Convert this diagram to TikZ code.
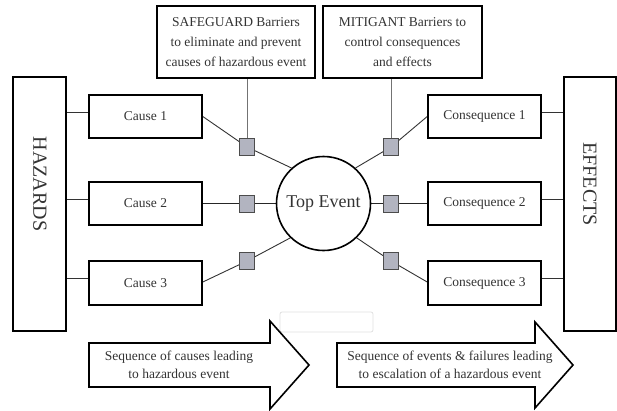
\documentclass[tikz,border=0pt]{standalone}
\usepackage{fontspec}
\setmainfont{Liberation Serif}
\definecolor{barfill}{RGB}{178,180,192}
\pgfdeclarelayer{bg}
\pgfsetlayers{bg,main}
\begin{document}
\begin{tikzpicture}[x=1pt,y=-1pt,
  txt/.style={text=black!80, font=\fontsize{13.5}{20}\selectfont, align=center},
  box/.style={txt, draw=black, line width=1.6pt, fill=white, inner sep=0pt},
  cbox/.style={box, minimum width=113pt, minimum height=43pt},
  tallbox/.style={draw=black, line width=1.6pt, fill=white, minimum width=53pt, minimum height=254pt, inner sep=0pt},
  bigtxt/.style={text=black!80, font=\fontsize{20}{24}\selectfont, rotate=-90, inner sep=0pt},
  bar/.style={draw=black!70, line width=0.8pt, fill=barfill, minimum width=15pt, minimum height=17pt, inner sep=0pt},
  conn/.style={draw=black!80, line width=0.9pt},
  thick conn/.style={draw=black!85, line width=1.8pt},
  vline/.style={draw=black!55, line width=0.9pt},
  arrowshape/.style={draw=black, line width=1.6pt, fill=white, line join=miter}
]
\useasboundingbox (0,0) rectangle (617,410);

% side boxes
\node[tallbox] (haz) at (39.5,204) {};
\node[bigtxt] (haztext) at (40,184) {HAZARDS};
\node[tallbox, minimum width=52pt] (eff) at (590,204) {};
\node[bigtxt] (efftext) at (590,184) {EFFECTS};

% barrier description boxes
\node[box, minimum width=158pt, minimum height=72pt] (sg) at (236,42)
  {SAFEGUARD Barriers\\to eliminate and prevent\\causes of hazardous event};
\node[box, minimum width=159pt, minimum height=72pt] (mg) at (402.5,42)
  {MITIGANT Barriers to\\control consequences\\and effects};

% causes and consequences
\node[cbox] (c1) at (145.5,116.5) {Cause 1};
\node[cbox] (c2) at (145.5,203.5) {Cause 2};
\node[cbox, minimum height=44pt] (c3) at (145.5,283) {Cause 3};
\node[cbox] (q1) at (484.5,116.5) {Consequence 1};
\node[cbox] (q2) at (484.5,203.5) {Consequence 2};
\node[cbox, minimum height=44pt] (q3) at (484.5,283) {Consequence 3};

% top event
\node[circle, draw=black, line width=1.6pt, fill=white, minimum size=94pt, inner sep=0pt,
      text=black!80, font=\fontsize{18}{20}\selectfont] (tev) at (323.5,203.5) {Top Event};

% barriers
\node[bar] (b1) at (247,147) {};
\node[bar] (b2) at (247,203.5) {};
\node[bar] (b3) at (247,261) {};
\node[bar] (m1) at (391,147) {};
\node[bar] (m2) at (391,203.5) {};
\node[bar] (m3) at (391,261) {};

\begin{pgfonlayer}{bg}
  % hazards to causes
  \draw[conn] ([yshift=4.5pt]c1.west) -- ([yshift=4.5pt]c1.west -| haz.east);
  \draw[conn] ([yshift=4.5pt]c2.west) -- ([yshift=4.5pt]c2.west -| haz.east);
  \draw[conn] ([yshift=4.5pt]c3.west) -- ([yshift=4.5pt]c3.west -| haz.east);
  % consequences to effects
  \draw[conn] ([yshift=4.5pt]q1.east) -- ([yshift=4.5pt]q1.east -| eff.west);
  \draw[conn] ([yshift=4.5pt]q2.east) -- ([yshift=4.5pt]q2.east -| eff.west);
  \draw[conn] ([yshift=4.5pt]q3.east) -- ([yshift=4.5pt]q3.east -| eff.west);
  % causes to top event via barriers
  \draw[conn] (c1.east) -- (b1.center) -- (tev.132);
  \draw[thick conn] (c2.east) -- (b2.center) -- (tev.west);
  \draw[conn] ([yshift=1pt]c3.east) -- (b3.center) -- (tev.226);
  % top event to consequences via barriers
  \draw[conn] (tev.48) -- (m1.center) -- (q1.west);
  \draw[thick conn] (tev.east) -- (m2.center) -- (q2.west);
  \draw[conn] (tev.314) -- (m3.center) -- ([yshift=1pt]q3.west);
  % barrier boxes to barriers
  \draw[vline] (sg.south -| b1.center) -- (b1.north);
  \draw[vline] (mg.south -| m1.center) -- (m1.north);
\end{pgfonlayer}

% faint empty box
\draw[draw=black!12, line width=0.8pt, rounded corners=2pt] (280,312) rectangle (373,332);

% sequence arrows
\draw[arrowshape] (89,343) -- (270,343) -- (270,321) -- (309,365) -- (270,409) -- (270,387) -- (89,387) -- cycle;
\node[txt, font=\fontsize{13.5}{18}\selectfont] (a1) at (179,364.5) {Sequence of causes leading\\to hazardous event};
\draw[arrowshape] (337,343) -- (535,343) -- (535,322) -- (573,365) -- (535,408) -- (535,387) -- (337,387) -- cycle;
\node[txt, font=\fontsize{13.5}{18}\selectfont] (a2) at (450,364.5) {Sequence of events \& failures leading\\to escalation of a hazardous event};
\end{tikzpicture}
\end{document}
